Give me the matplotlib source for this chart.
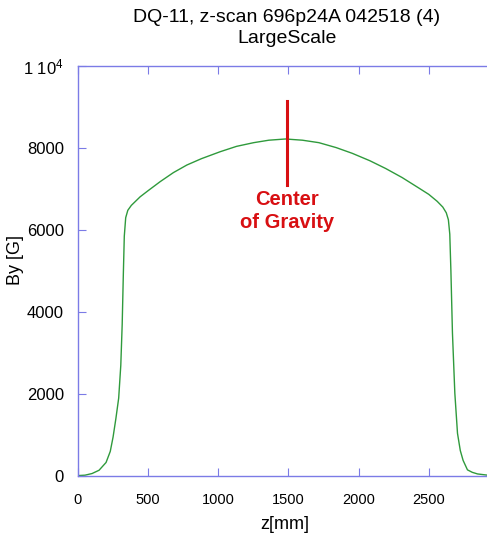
import numpy as np
import matplotlib
matplotlib.use("Agg")
import matplotlib.pyplot as plt
from matplotlib.ticker import FixedLocator, FuncFormatter

plt.rcParams['font.family'] = ['Liberation Sans', 'DejaVu Sans']
plt.rcParams['mathtext.default'] = 'regular'

# z-scan of By along the magnet [mm, G]
z_mm = [0, 50, 100, 150, 200, 230, 250, 270, 290, 305, 315, 323, 330, 340, 355,
        380, 443, 500, 586, 680, 776, 880, 1014, 1130, 1252, 1360, 1479, 1600,
        1717, 1840, 1955, 2080, 2193, 2310, 2431, 2500, 2560, 2600, 2625,
        2640, 2650, 2658, 2669, 2686, 2705, 2725, 2745, 2776, 2810, 2848, 2920]
by_g = [10, 20, 60, 140, 330, 600, 950, 1400, 1900, 2700, 3700, 4900, 5850, 6300, 6480,
        6600, 6810, 6960, 7180, 7400, 7585, 7740, 7910, 8040, 8130, 8190, 8220, 8190,
        8130, 8010, 7870, 7690, 7500, 7280, 7020, 6870, 6700, 6560, 6420,
        6250, 5900, 5000, 3490, 2020, 1040, 620, 380, 150, 90, 50, 20]

cog_z = 1490
cog_span = [7100, 9140]

xticks = [0, 500, 1000, 1500, 2000, 2500]
yticks = [0, 2000, 4000, 6000, 8000, 10000]

axcol = '#7b7be6'

fig = plt.figure(figsize=(4.87, 5.33), dpi=100)
ax = fig.add_axes([78 / 487, 57 / 533, 1.0 - 78 / 487 + 0.01, 410 / 533])

ax.plot(z_mm, by_g, color='#2f9a3c', lw=1.0)
ax.plot([cog_z, cog_z], cog_span, color='#d80f12', lw=2.2)
ax.text(cog_z, 6460, "Center\nof Gravity", color='#d80f12', fontsize=14.5,
        fontweight='bold', ha='center', va='center', linespacing=1.3)

ax.set_xlim(0, 2950)
ax.set_ylim(0, 10000)
ax.xaxis.set_major_locator(FixedLocator(xticks))
ax.yaxis.set_major_locator(FixedLocator(yticks))

def ylab(v, pos):
    if v == 10000:
        return '1 $10^4$'
    return '%d' % v

ax.yaxis.set_major_formatter(FuncFormatter(ylab))
ax.tick_params(direction='in', length=6, color=axcol, top=True, right=False)
ax.tick_params(axis='x', labelsize=10.5, pad=12)
ax.tick_params(axis='y', labelsize=12, pad=10)
for s in ['left', 'bottom', 'top']:
    ax.spines[s].set_color(axcol)
    ax.spines[s].set_linewidth(1.0)
ax.spines['right'].set_visible(False)

ax.set_xlabel('z[mm]', fontsize=13, labelpad=7)
fig.text(16 / 487, 1 - 260 / 533, 'By [G]', rotation=90, fontsize=13,
         ha='center', va='center')
fig.text(287 / 487, 1 - 28 / 533, "DQ-11, z-scan 696p24A 042518 (4)\nLargeScale",
         ha='center', va='center', fontsize=14, linespacing=1.35)

fig.savefig('out.png', dpi=100)
